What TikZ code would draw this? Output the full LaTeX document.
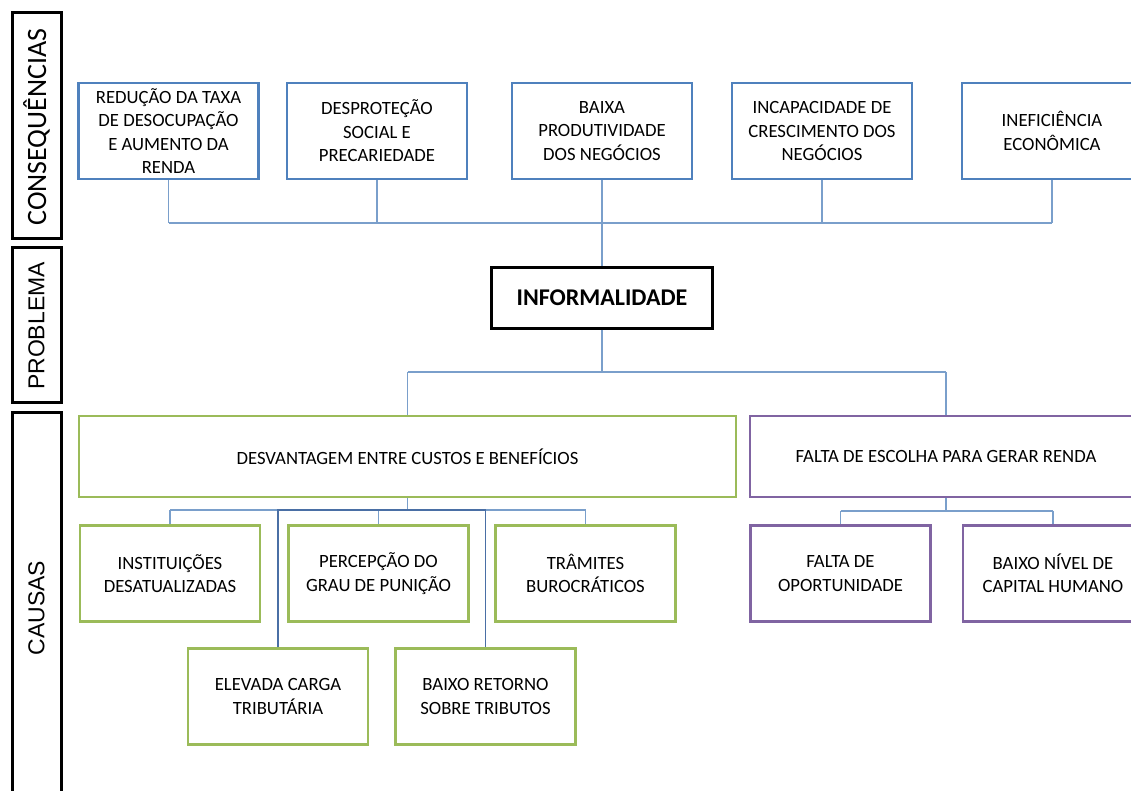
\documentclass[tikz,border=0pt]{standalone}
\usepackage{fontspec}
\setmainfont{Carlito}
\newfontfamily\arialfont{Liberation Sans}
\usetikzlibrary{positioning}
\definecolor{boxblue}{HTML}{4F81BD}
\definecolor{boxgreen}{HTML}{9BBB59}
\definecolor{boxpurple}{HTML}{8064A2}
\definecolor{linkblue}{HTML}{7A9FCB}
\definecolor{darklink}{HTML}{4A6FA5}
\tikzset{
  basebox/.style={fill=white, line width=2.5pt, inner sep=0pt, align=center,
    minimum width=180pt, minimum height=96pt, font=\fontsize{18.7}{23.5}\selectfont},
  conbox/.style={basebox, draw=boxblue},
  greenbox/.style={basebox, draw=boxgreen},
  purplebox/.style={basebox, draw=boxpurple},
  link/.style={draw=linkblue, line width=1.3pt},
  longlink/.style={draw=darklink, line width=1.3pt},
  sidelabel/.style={rotate=90, inner sep=0pt},
}
\begin{document}
\begin{tikzpicture}[x=1pt,y=-1pt]
  \useasboundingbox (0,0) rectangle (1131,791);
  \clip (0,0) rectangle (1131,791);
  % side labels
  \draw[line width=3pt] (12,13) rectangle (61,239);
  \draw[line width=3pt] (12,248) rectangle (61,402);
  \draw[line width=3pt] (12,412) rectangle (61,810);
  \node[sidelabel, font=\fontsize{28}{30}\selectfont] (lcons) at (36.5,127) {CONSEQUÊNCIAS};
  \node[sidelabel, font=\arialfont\fontsize{23}{26}\selectfont] (lprob) at (36.5,326) {PROBLEMA};
  \node[sidelabel, font=\arialfont\fontsize{23}{26}\selectfont] (lcaus) at (36.5,608) {CAUSAS};
  % consequencias
  \node[conbox] (c1) at (168.5,131) {REDUÇÃO DA TAXA\\DE DESOCUPAÇÃO\\E AUMENTO DA\\RENDA};
  \node[conbox] (c2) at (377,131) {DESPROTEÇÃO\\SOCIAL E\\PRECARIEDADE};
  \node[conbox] (c3) at (602,131) {BAIXA\\PRODUTIVIDADE\\DOS NEGÓCIOS};
  \node[conbox] (c4) at (822,131) {INCAPACIDADE DE\\CRESCIMENTO DOS\\NEGÓCIOS};
  \node[conbox] (c5) at (1052,131) {INEFICIÊNCIA\\ECONÔMICA};
  % problema
  \node[draw, line width=2.5pt, minimum width=221pt, minimum height=61pt, inner sep=0pt,
    font=\fontsize{24}{28}\selectfont\bfseries] (prob) at (602,298) {INFORMALIDADE};
  % causas
  \node[greenbox, minimum width=657pt, minimum height=81pt] (desv) at (407.5,456.5) {DESVANTAGEM ENTRE CUSTOS E BENEFÍCIOS};
  \node[purplebox, minimum width=392pt, minimum height=81pt] (falta) at (946,456.5) {FALTA DE ESCOLHA PARA GERAR RENDA};
  \node[greenbox] (inst) at (170,573.5) {INSTITUIÇÕES\\DESATUALIZADAS};
  \node[greenbox] (perc) at (378.5,573.5) {PERCEPÇÃO DO\\GRAU DE PUNIÇÃO};
  \node[greenbox] (tram) at (585.5,573.5) {TRÂMITES\\BUROCRÁTICOS};
  \node[greenbox] (carga) at (278,696.5) {ELEVADA CARGA\\TRIBUTÁRIA};
  \node[greenbox] (retorno) at (485.5,696.5) {BAIXO RETORNO\\SOBRE TRIBUTOS};
  \node[purplebox] (oport) at (840.5,573.5) {FALTA DE\\OPORTUNIDADE};
  \node[purplebox] (capital) at (1053,573.5) {BAIXO NÍVEL DE\\CAPITAL HUMANO};
  % connectors
  \coordinate (topbus) at (602,223);
  \coordinate (midbus) at (602,372);
  \coordinate (greenbus) at (408,510);
  \coordinate (purplebus) at (946,511);
  \foreach \n in {c1,c2,c3,c4,c5}
    \draw[link] (\n.south) -- (\n.south |- topbus);
  \draw[link] (c1.south |- topbus) -- (c5.south |- topbus);
  \draw[link] (c3.south |- topbus) -- (prob.north);
  \draw[link] (prob.south) -- (prob.south |- midbus);
  \draw[link] (desv.north |- midbus) -- (falta.north |- midbus);
  \draw[link] (desv.north |- midbus) -- (desv.north);
  \draw[link] (falta.north |- midbus) -- (falta.north);
  \draw[link] (desv.south) -- (desv.south |- greenbus);
  \draw[link] (inst.north |- greenbus) -- (tram.north |- greenbus);
  \foreach \n in {inst,perc,tram}
    \draw[link] (\n.north |- greenbus) -- (\n.north);
  \draw[longlink] (carga.north) -- (carga.north |- greenbus) -- (retorno.north |- greenbus) -- (retorno.north);
  \draw[link] (falta.south) -- (falta.south |- purplebus);
  \draw[link] (oport.north |- purplebus) -- (capital.north |- purplebus);
  \foreach \n in {oport,capital}
    \draw[link] (\n.north |- purplebus) -- (\n.north);
\end{tikzpicture}
\end{document}
